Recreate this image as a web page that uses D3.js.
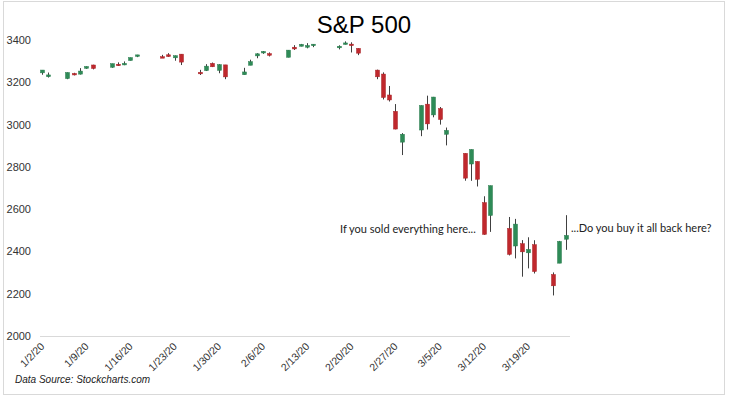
<!DOCTYPE html>
<html>
  <head>
    <meta charset="utf-8">
    <title>S&amp;P 500</title>
    <script src="https://d3js.org/d3.v7.min.js"></script>
    <style>
      body { margin: 0; background: #fff; }
      svg { display: block; }
    </style>
  </head>
  <body>
    <div id="chart"></div>
    <script>
      // daily S&P 500 candles, Jan 2 - Mar 25 2020
      var dates = ["2020-01-02","2020-01-03","2020-01-06","2020-01-07","2020-01-08","2020-01-09","2020-01-10",
        "2020-01-13","2020-01-14","2020-01-15","2020-01-16","2020-01-17","2020-01-21","2020-01-22","2020-01-23",
        "2020-01-24","2020-01-27","2020-01-28","2020-01-29","2020-01-30","2020-01-31","2020-02-03","2020-02-04",
        "2020-02-05","2020-02-06","2020-02-07","2020-02-10","2020-02-11","2020-02-12","2020-02-13","2020-02-14",
        "2020-02-18","2020-02-19","2020-02-20","2020-02-21","2020-02-24","2020-02-25","2020-02-26","2020-02-27",
        "2020-02-28","2020-03-02","2020-03-03","2020-03-04","2020-03-05","2020-03-06","2020-03-09","2020-03-10",
        "2020-03-11","2020-03-12","2020-03-13","2020-03-16","2020-03-17","2020-03-18","2020-03-19","2020-03-20",
        "2020-03-23","2020-03-24","2020-03-25"];
      var opens = [3244.67,3226.36,3217.55,3241.86,3238.59,3266.03,3281.81,3271.13,3285.35,3282.27,3302.97,3323.66,
        3321.03,3330.02,3315.77,3333.10,3247.16,3255.35,3289.46,3256.45,3282.33,3235.66,3280.61,3324.91,3344.92,
        3335.54,3318.28,3365.87,3370.50,3365.90,3378.08,3369.04,3380.39,3380.45,3360.50,3257.61,3238.94,3139.90,
        3062.54,2916.90,2974.28,3096.46,3045.75,3075.70,2954.20,2863.89,2813.48,2825.60,2630.86,2569.99,2508.59,
        2425.66,2436.50,2393.48,2431.94,2290.71,2344.44,2457.77];
      var highs = [3258.14,3246.15,3246.84,3244.91,3267.07,3275.58,3282.99,3288.13,3294.25,3298.66,3317.11,3329.88,
        3329.79,3337.77,3326.88,3333.18,3258.85,3285.78,3293.47,3285.91,3282.33,3268.44,3306.92,3337.58,3347.96,
        3341.42,3352.26,3375.63,3381.47,3385.09,3380.69,3375.01,3393.52,3389.15,3360.76,3259.81,3246.99,3182.51,
        3097.07,2959.72,3090.96,3136.72,3130.97,3083.04,2985.93,2863.89,2882.59,2825.60,2660.95,2711.33,2562.98,
        2553.93,2453.57,2466.97,2453.01,2300.73,2449.71,2571.42];
      var lows = [3235.53,3222.34,3214.64,3232.43,3236.67,3263.67,3260.86,3268.43,3277.19,3280.69,3302.82,3318.86,
        3316.61,3320.04,3301.87,3281.53,3234.50,3253.22,3271.89,3242.80,3214.68,3235.66,3280.61,3313.75,3334.39,
        3322.12,3317.77,3352.72,3369.72,3360.52,3366.15,3355.61,3378.83,3341.02,3328.45,3214.65,3118.77,3108.99,
        2977.39,2855.84,2945.19,2976.63,3034.38,2999.83,2901.54,2734.43,2734.00,2707.22,2478.86,2492.37,2380.94,
        2367.04,2280.52,2319.78,2295.56,2191.86,2344.44,2407.53];
      var closes = [3257.85,3234.85,3246.28,3237.18,3253.05,3274.70,3265.35,3288.13,3283.15,3289.29,3316.81,3329.62,
        3320.79,3321.75,3325.54,3295.47,3243.63,3276.24,3273.40,3283.66,3225.52,3248.92,3297.59,3334.69,3345.78,
        3327.71,3352.09,3357.75,3379.45,3373.94,3380.16,3370.29,3386.15,3373.23,3337.75,3225.89,3128.21,3116.39,
        2978.76,2954.22,3090.23,3003.37,3130.12,3023.94,2972.37,2746.56,2882.23,2741.38,2480.64,2711.02,2386.13,
        2529.19,2398.10,2409.39,2304.92,2237.40,2447.33,2475.56];

      var yTicks = [2000, 2200, 2400, 2600, 2800, 3000, 3200, 3400];
      var xTicks = ["2020-01-02","2020-01-09","2020-01-16","2020-01-23","2020-01-30","2020-02-06","2020-02-13",
        "2020-02-20","2020-02-27","2020-03-05","2020-03-12","2020-03-19"];

      var W = 730, H = 397;
      var parse = d3.timeParse("%Y-%m-%d");
      var fmt = d3.timeFormat("%-m/%-d/%y");

      var candles = dates.map(function(d, i) {
        return { date: parse(d), o: opens[i], h: highs[i], l: lows[i], c: closes[i] };
      });

      var svg = d3.select("#chart").append("svg")
        .attr("width", W)
        .attr("height", H);

      // outer frame
      svg.append("rect")
        .attr("x", 3.5).attr("y", 1.5)
        .attr("width", 721).attr("height", 393)
        .attr("fill", "#fff")
        .attr("stroke", "#d9d9d9");

      var x = d3.scaleTime()
        .domain([d3.timeHour.offset(parse(dates[0]), -8), d3.timeHour.offset(parse(dates[dates.length - 1]), 16)])
        .range([40, 570]);

      var y = d3.scaleLinear()
        .domain([2000, 3400])
        .range([336, 40]);

      // title
      svg.append("text")
        .attr("x", 364).attr("y", 33)
        .attr("text-anchor", "middle")
        .style("font-family", "Liberation Sans, Arial, sans-serif")
        .style("font-size", "24px")
        .attr("fill", "#000")
        .text("S&P 500");

      // y axis labels
      svg.append("g").selectAll("text")
        .data(yTicks)
        .enter().append("text")
          .attr("x", 31)
          .attr("y", function(d) { return y(d) + 4; })
          .attr("text-anchor", "end")
          .style("font-family", "Liberation Sans, Arial, sans-serif")
          .style("font-size", "11px")
          .attr("fill", "#333")
          .text(function(d) { return d; });

      // baseline
      svg.append("line")
        .attr("x1", x.range()[0]).attr("x2", x.range()[1])
        .attr("y1", y(2000) + 0.5).attr("y2", y(2000) + 0.5)
        .attr("stroke", "#d9d9d9");

      // x axis labels, rotated
      svg.append("g").selectAll("text")
        .data(xTicks)
        .enter().append("text")
          .attr("transform", function(d) {
            return "translate(" + (x(parse(d)) + 3) + "," + 347 + ") rotate(-45)";
          })
          .attr("text-anchor", "end")
          .style("font-family", "Liberation Sans, Arial, sans-serif")
          .style("font-size", "10.5px")
          .attr("fill", "#333")
          .text(function(d) { return fmt(parse(d)); });

      // candles
      var g = svg.append("g");
      var bw = 4;

      g.selectAll("line.wick")
        .data(candles)
        .enter().append("line")
          .attr("class", "wick")
          .attr("x1", function(d) { return Math.round(x(d.date)) + 0.5; })
          .attr("x2", function(d) { return Math.round(x(d.date)) + 0.5; })
          .attr("y1", function(d) { return y(d.h); })
          .attr("y2", function(d) { return y(d.l); })
          .attr("stroke", "#404040")
          .attr("stroke-width", 1);

      g.selectAll("rect.body")
        .data(candles)
        .enter().append("rect")
          .attr("class", "body")
          .attr("x", function(d) { return Math.round(x(d.date)) + 0.5 - bw / 2; })
          .attr("y", function(d) { return y(Math.max(d.o, d.c)); })
          .attr("width", bw)
          .attr("height", function(d) { return Math.max(1.5, Math.abs(y(d.o) - y(d.c))); })
          .attr("fill", function(d) { return d.c >= d.o ? "#2e8b57" : "#c0282d"; })
          .attr("stroke", function(d) { return d.c >= d.o ? "#2a7d4f" : "#a82428"; })
          .attr("stroke-width", 0.5);

      // annotations
      svg.append("text")
        .attr("x", 340).attr("y", 233)
        .style("font-family", "Lato, sans-serif")
        .style("font-size", "11px")
        .attr("fill", "#222")
        .text("If you sold everything here...");

      svg.append("text")
        .attr("x", 571).attr("y", 232)
        .style("font-family", "Lato, sans-serif")
        .style("font-size", "11px")
        .attr("fill", "#222")
        .text("...Do you buy it all back here?");

      // source note
      svg.append("text")
        .attr("x", 15).attr("y", 383)
        .style("font-family", "Liberation Sans, Arial, sans-serif")
        .style("font-size", "10px")
        .style("font-style", "italic")
        .attr("fill", "#222")
        .text("Data Source: Stockcharts.com");
    </script>
  </body>
</html>
